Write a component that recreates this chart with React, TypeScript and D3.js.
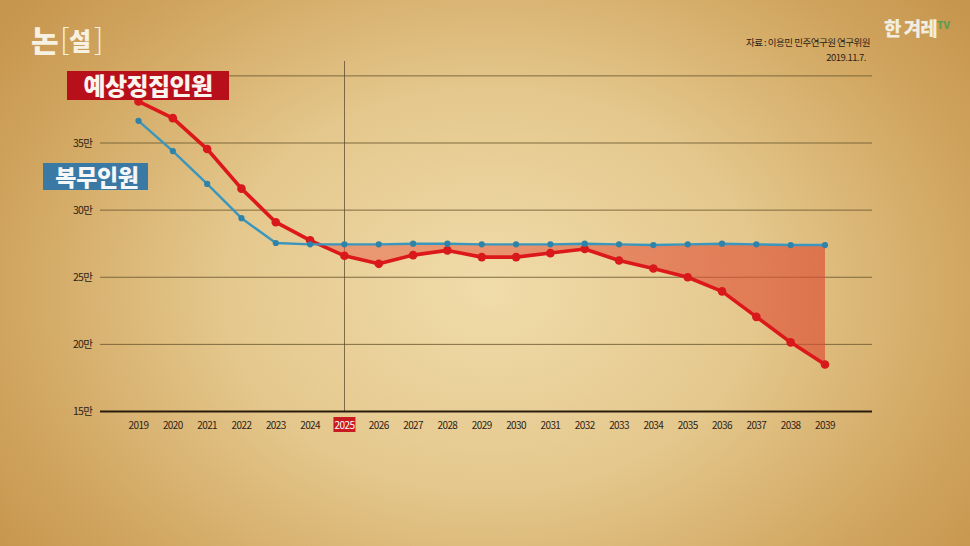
import React from 'react';
import * as d3 from 'd3';

const years = [2019, 2020, 2021, 2022, 2023, 2024, 2025, 2026, 2027, 2028, 2029, 2030, 2031, 2032, 2033, 2034, 2035, 2036, 2037, 2038, 2039];
const conscripts = [38.1, 36.85, 34.55, 31.6, 29.1, 27.75, 26.6, 26.0, 26.65, 27.0, 26.5, 26.5, 26.8, 27.1, 26.25, 25.65, 25.0, 23.95, 22.05, 20.15, 18.5];
const serving = [36.65, 34.4, 31.95, 29.4, 27.55, 27.45, 27.45, 27.45, 27.5, 27.5, 27.45, 27.45, 27.45, 27.5, 27.45, 27.4, 27.45, 27.5, 27.45, 27.4, 27.4];
const yTicks = [15, 20, 25, 30, 35, 40];
const yTickLabels = ['15만', '20만', '25만', '30만', '35만', ''];
const highlightYear = 2025;
const legendConscripts = '예상징집인원';
const legendServing = '복무인원';
const sourceText = '자료 : 이용민 민주연구원 연구위원';
const dateText = '2019.11.7.';

const W = 970;
const H = 546;
const FONT = "'Noto Sans CJK KR', 'Noto Sans', sans-serif";

export default function App() {
  const x = d3.scalePoint<number>().domain(years).range([138.5, 825]);
  const y = d3.scaleLinear().domain([15, 35]).range([411.5, 143]);
  const gridX0 = 100;
  const gridX1 = 872;

  const redPts = years.map((yr, i) => ({ x: x(yr) as number, v: conscripts[i] }));
  const bluePts = years.map((yr, i) => ({ x: x(yr) as number, v: serving[i] }));

  const line = d3.line<{ x: number; v: number }>().x(d => d.x).y(d => y(d.v));

  let ci = 0;
  for (let i = 0; i < years.length - 1; i++) {
    if (conscripts[i] >= serving[i] && conscripts[i + 1] < serving[i + 1]) { ci = i; break; }
  }
  const d0 = conscripts[ci] - serving[ci];
  const d1 = conscripts[ci + 1] - serving[ci + 1];
  const t = d0 / (d0 - d1);
  const xc = (x(years[ci]) as number) * (1 - t) + (x(years[ci + 1]) as number) * t;
  const vc = serving[ci] * (1 - t) + serving[ci + 1] * t;
  const areaData = [{ x: xc, r: vc, b: vc }];
  for (let i = ci + 1; i < years.length; i++) areaData.push({ x: x(years[i]) as number, r: conscripts[i], b: serving[i] });
  const area = d3.area<{ x: number; r: number; b: number }>().x(d => d.x).y0(d => y(d.b)).y1(d => y(d.r));

  const hx = x(highlightYear) as number;

  return (
    <svg width={W} height={H} style={{ position: 'absolute', left: 0, top: 0 }} fontFamily={FONT}>
      <defs>
        <radialGradient id="bg" gradientUnits="userSpaceOnUse" cx={490} cy={290} r={600} fx={490} fy={290}
          gradientTransform="translate(490 290) scale(1 0.75) translate(-490 -290)">
          <stop offset="0" stopColor="#f0dcaa" />
          <stop offset="0.45" stopColor="#e4c78c" />
          <stop offset="0.8" stopColor="#d1a660" />
          <stop offset="1" stopColor="#c7964e" />
        </radialGradient>
        <linearGradient id="gapFill" x1="0" x2="1" y1="0" y2="0">
          <stop offset="0" stopColor="#e8634a" stopOpacity={0.5} />
          <stop offset="1" stopColor="#dc4e34" stopOpacity={0.66} />
        </linearGradient>
      </defs>
      <rect x={0} y={0} width={W} height={H} fill="url(#bg)" />

      {yTicks.filter(v => v !== 15).map(v => (
        <line key={v} x1={gridX0} x2={gridX1} y1={y(v)} y2={y(v)} stroke="#6e5a32" strokeWidth={1} opacity={0.85} />
      ))}
      <line x1={hx} x2={hx} y1={61} y2={y(15)} stroke="#5e4d30" strokeWidth={0.9} opacity={0.9} />

      <path d={area(areaData) || ''} fill="url(#gapFill)" />

      <path d={line(redPts) || ''} fill="none" stroke="#dc181b" strokeWidth={3.6} strokeLinejoin="round" />
      {redPts.map((p, i) => <circle key={'r' + i} cx={p.x} cy={y(p.v)} r={4.3} fill="#d8181b" />)}

      <path d={line(bluePts) || ''} fill="none" stroke="#3a96bc" strokeWidth={2.4} strokeLinejoin="round" />
      {bluePts.map((p, i) => <circle key={'b' + i} cx={p.x} cy={y(p.v)} r={3.1} fill="#2f83a8" />)}

      <line x1={gridX0} x2={gridX1} y1={y(15)} y2={y(15)} stroke="#2a1c0c" strokeWidth={2} />
      {years.map(yr => {
        const cx = x(yr) as number;
        const hl = yr === highlightYear;
        return (
          <g key={yr}>
            {hl && <rect x={cx - 11} y={417} width={22} height={15} fill="#c81a1f" />}
            <text x={cx} y={428.5} textAnchor="middle" fontSize={10} letterSpacing={-0.6}
              fill={hl ? '#ffffff' : '#2e2214'}>{yr}</text>
          </g>
        );
      })}

      {yTicks.map((v, i) => yTickLabels[i] ? (
        <text key={v} x={92} y={y(v) + 3.5} textAnchor="end" fontSize={10.5} letterSpacing={-0.8} fill="#2e2214">{yTickLabels[i]}</text>
      ) : null)}

      <rect x={67} y={71} width={162} height={29} fill="#b8101a" />
      <text x={148} y={95} textAnchor="middle" fontSize={24} fontWeight={900} letterSpacing={-0.6} fill="#fbf3ee">{legendConscripts}</text>
      <rect x={43} y={163} width={105} height={27} fill="#3a79a3" />
      <text x={97} y={185.5} textAnchor="middle" fontSize={23} fontWeight={900} letterSpacing={-0.3} fill="#f4f6f8">{legendServing}</text>

      <g fill="#f7f1e2">
        <text x={31} y={52} fontSize={30} fontWeight={900}>논</text>
        <text x={60} y={50} fontSize={30} fontWeight={300}>[</text>
        <text x={69} y={50} fontSize={24} fontWeight={900}>설</text>
        <text x={94} y={50} fontSize={30} fontWeight={300}>]</text>
      </g>
      <g>
        <text x={884} y={36} fontSize={19} fontWeight={900} fill="#f1ede0" letterSpacing={-1}>한 겨레</text>
        <text x={937} y={29} fontSize={10} fontWeight={900} fill="#5f9c4f">TV</text>
      </g>

      <text x={870} y={46} textAnchor="end" fontSize={9.5} letterSpacing={-0.5} fill="#2e2214">{sourceText}</text>
      <text x={866} y={61} textAnchor="end" fontSize={9.5} letterSpacing={-0.5} fill="#2e2214">{dateText}</text>
    </svg>
  );
}
